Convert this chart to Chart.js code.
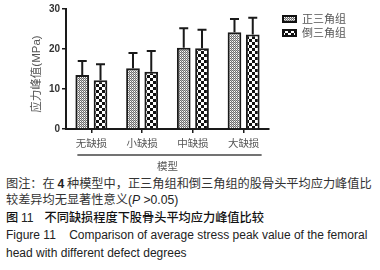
<!DOCTYPE html>
<html>
<head>
<meta charset="utf-8">
<script src="https://cdn.jsdelivr.net/npm/chart.js@4"></script>
<style>
	html, body { margin: 0; padding: 0; background: #fff; }
	#wrap { position: relative; width: 380px; height: 270px; overflow: hidden; }
	#chart-box { position: absolute; left: 0; top: 0; width: 380px; height: 173px; }
	.cap { position: absolute; left: 6px; white-space: nowrap; font-size: 12px; line-height: 14px; }
	.cn { font-family: "Noto Sans CJK SC", sans-serif; color: #333; }
	.en { font-family: "Liberation Sans", Arial, sans-serif; color: #222; }
</style>
</head>
<body>
<div id="wrap">
	<div id="chart-box"><canvas id="chart-stress"></canvas></div>
	<div class="cap cn" style="top:176px;font-size:12.2px">图注：在 <span class="en" style="font-weight:bold">4</span> 种模型中，正三角组和倒三角组的股骨头平均应力峰值比</div>
	<div class="cap cn" style="top:192px;font-size:12.2px">较差异均无显著性意义<span class="en">(<i>P</i> &gt;0.05)</span></div>
	<div class="cap cn" style="top:210px;color:#111;font-weight:500;font-size:12.2px">图 <span class="en">11</span>&nbsp;&nbsp;&nbsp;&nbsp;不同缺损程度下股骨头平均应力峰值比较</div>
	<div class="cap en" style="top:228px">Figure 11&nbsp;&nbsp;&nbsp;&nbsp;Comparison of average stress peak value of the femoral</div>
	<div class="cap en" style="top:246px">head with different defect degrees</div>
</div>
<script>
const CATEGORIES = ["无缺损", "小缺损", "中缺损", "大缺损"];
const SERIES_NAMES = ["正三角组", "倒三角组"];
const UPRIGHT_MEAN = [13.5, 15.2, 20.3, 24.2];
const UPRIGHT_SD = [3.5, 3.8, 4.9, 3.3];
const INVERTED_MEAN = [12.2, 14.3, 20.2, 23.6];
const INVERTED_SD = [4.0, 5.2, 4.6, 4.2];
const Y_TICKS = [0, 10, 20, 30];
const Y_TITLE = "应力峰值(MPa)";

const FONT_CN = "'Liberation Sans', 'Noto Sans CJK SC', sans-serif";

// fill patterns
const makePattern = (size, draw) => {
	const c = document.createElement("canvas");
	c.width = size;
	c.height = size;
	const g = c.getContext("2d");
	g.fillStyle = "#fff";
	g.fillRect(0, 0, size, size);
	draw(g);
	return g.createPattern(c, "repeat");
};

const finePattern = makePattern(2, (g) => {
	g.fillStyle = "#6e6e6e";
	g.fillRect(0, 0, 1, 1);
	g.fillRect(1, 1, 1, 1);
	g.fillStyle = "#b8b8b8";
	g.fillRect(1, 0, 1, 1);
});

const checkPattern = makePattern(6, (g) => {
	g.fillStyle = "#111";
	g.fillRect(0, 0, 3, 3);
	g.fillRect(3, 3, 3, 3);
});

const SDS = [UPRIGHT_SD, INVERTED_SD];

// error bars (upper only) + grouping line + legend + y title
const extras = {
	id: "extras",
	afterDatasetsDraw(chart) {
		const ctx = chart.ctx;
		const y = chart.scales.y;
		ctx.save();
		ctx.strokeStyle = "#1a1a1a";
		ctx.lineWidth = 2;
		chart.data.datasets.forEach((ds, di) => {
			chart.getDatasetMeta(di).data.forEach((bar, i) => {
				const top = y.getPixelForValue(ds.data[i] + SDS[di][i]);
				ctx.beginPath();
				ctx.moveTo(bar.x, bar.y);
				ctx.lineTo(bar.x, top);
				ctx.moveTo(bar.x - 4.5, top);
				ctx.lineTo(bar.x + 4.5, top);
				ctx.stroke();
			});
		});
		ctx.restore();
	},
	afterDraw(chart) {
		const ctx = chart.ctx;
		const x = chart.scales.x;
		const y = chart.scales.y;
		ctx.save();
		// line under category labels
		ctx.strokeStyle = "#444";
		ctx.lineWidth = 1.5;
		ctx.beginPath();
		ctx.moveTo(x.getPixelForValue(0) - 14, 155);
		ctx.lineTo(x.getPixelForValue(3) + 18, 155);
		ctx.stroke();

		// y title
		ctx.save();
		ctx.translate(37, (y.top + y.bottom) / 2 + 5);
		ctx.rotate(-Math.PI / 2);
		ctx.fillStyle = "#555";
		ctx.font = "11.5px " + FONT_CN;
		ctx.textAlign = "center";
		ctx.textBaseline = "middle";
		ctx.fillText(Y_TITLE, 0, 0);
		ctx.restore();

		// legend
		chart.data.datasets.forEach((ds, di) => {
			const ly = 15 + di * 14;
			ctx.fillStyle = "#111";
			ctx.fillRect(282, ly, 15, 8);
			ctx.fillStyle = ds.backgroundColor;
			ctx.fillRect(284, ly + 2, 11, 4);
			ctx.fillStyle = "#555";
			ctx.font = "11px " + FONT_CN;
			ctx.textBaseline = "middle";
			ctx.fillText(ds.label, 302, ly + 4.5);
		});
		ctx.restore();
	},
};

new Chart(document.getElementById("chart-stress"), {
	type: "bar",
	data: {
		labels: CATEGORIES,
		datasets: [
			{
				label: SERIES_NAMES[0],
				data: UPRIGHT_MEAN,
				backgroundColor: finePattern,
				borderColor: "#1a1a1a",
				borderWidth: 2,
				categoryPercentage: 0.72,
				barPercentage: 0.75,
			},
			{
				label: SERIES_NAMES[1],
				data: INVERTED_MEAN,
				backgroundColor: checkPattern,
				borderColor: "#1a1a1a",
				borderWidth: 2,
				categoryPercentage: 0.72,
				barPercentage: 0.75,
			},
		],
	},
	plugins: [extras],
	options: {
		responsive: true,
		maintainAspectRatio: false,
		animation: false,
		layout: {
			padding: { top: 9, right: 111, left: 0, bottom: 0 },
		},
		scales: {
			x: {
				afterFit: (s) => { s.height = 44; },
				grid: {
					display: true,
					drawOnChartArea: false,
					drawTicks: true,
					tickLength: 4,
					offset: false,
					color: "#1a1a1a",
					lineWidth: 1.5,
				},
				border: { color: "#1a1a1a", width: 2 },
				ticks: {
					color: "#555",
					padding: 5,
					font: { family: FONT_CN, size: 10.5 },
				},
				title: {
					display: true,
					text: "模型",
					color: "#555",
					font: { family: FONT_CN, size: 10.5 },
					padding: { top: 0, bottom: 0 },
				},
			},
			y: {
				min: 0,
				max: 30,
				afterFit: (s) => { s.width = 66; },
				afterBuildTicks: (s) => { s.ticks = Y_TICKS.map((v) => ({ value: v })); },
				grid: {
					display: true,
					drawOnChartArea: false,
					drawTicks: true,
					tickLength: 4,
					color: "#1a1a1a",
					lineWidth: 1.5,
				},
				border: { color: "#1a1a1a", width: 2 },
				ticks: {
					color: "#333",
					padding: 2,
					font: { family: "'Liberation Sans', Arial, sans-serif", size: 10, weight: "bold" },
				},
			},
		},
		plugins: {
			legend: { display: false },
			tooltip: { enabled: false },
		},
	},
});
</script>
</body>
</html>
